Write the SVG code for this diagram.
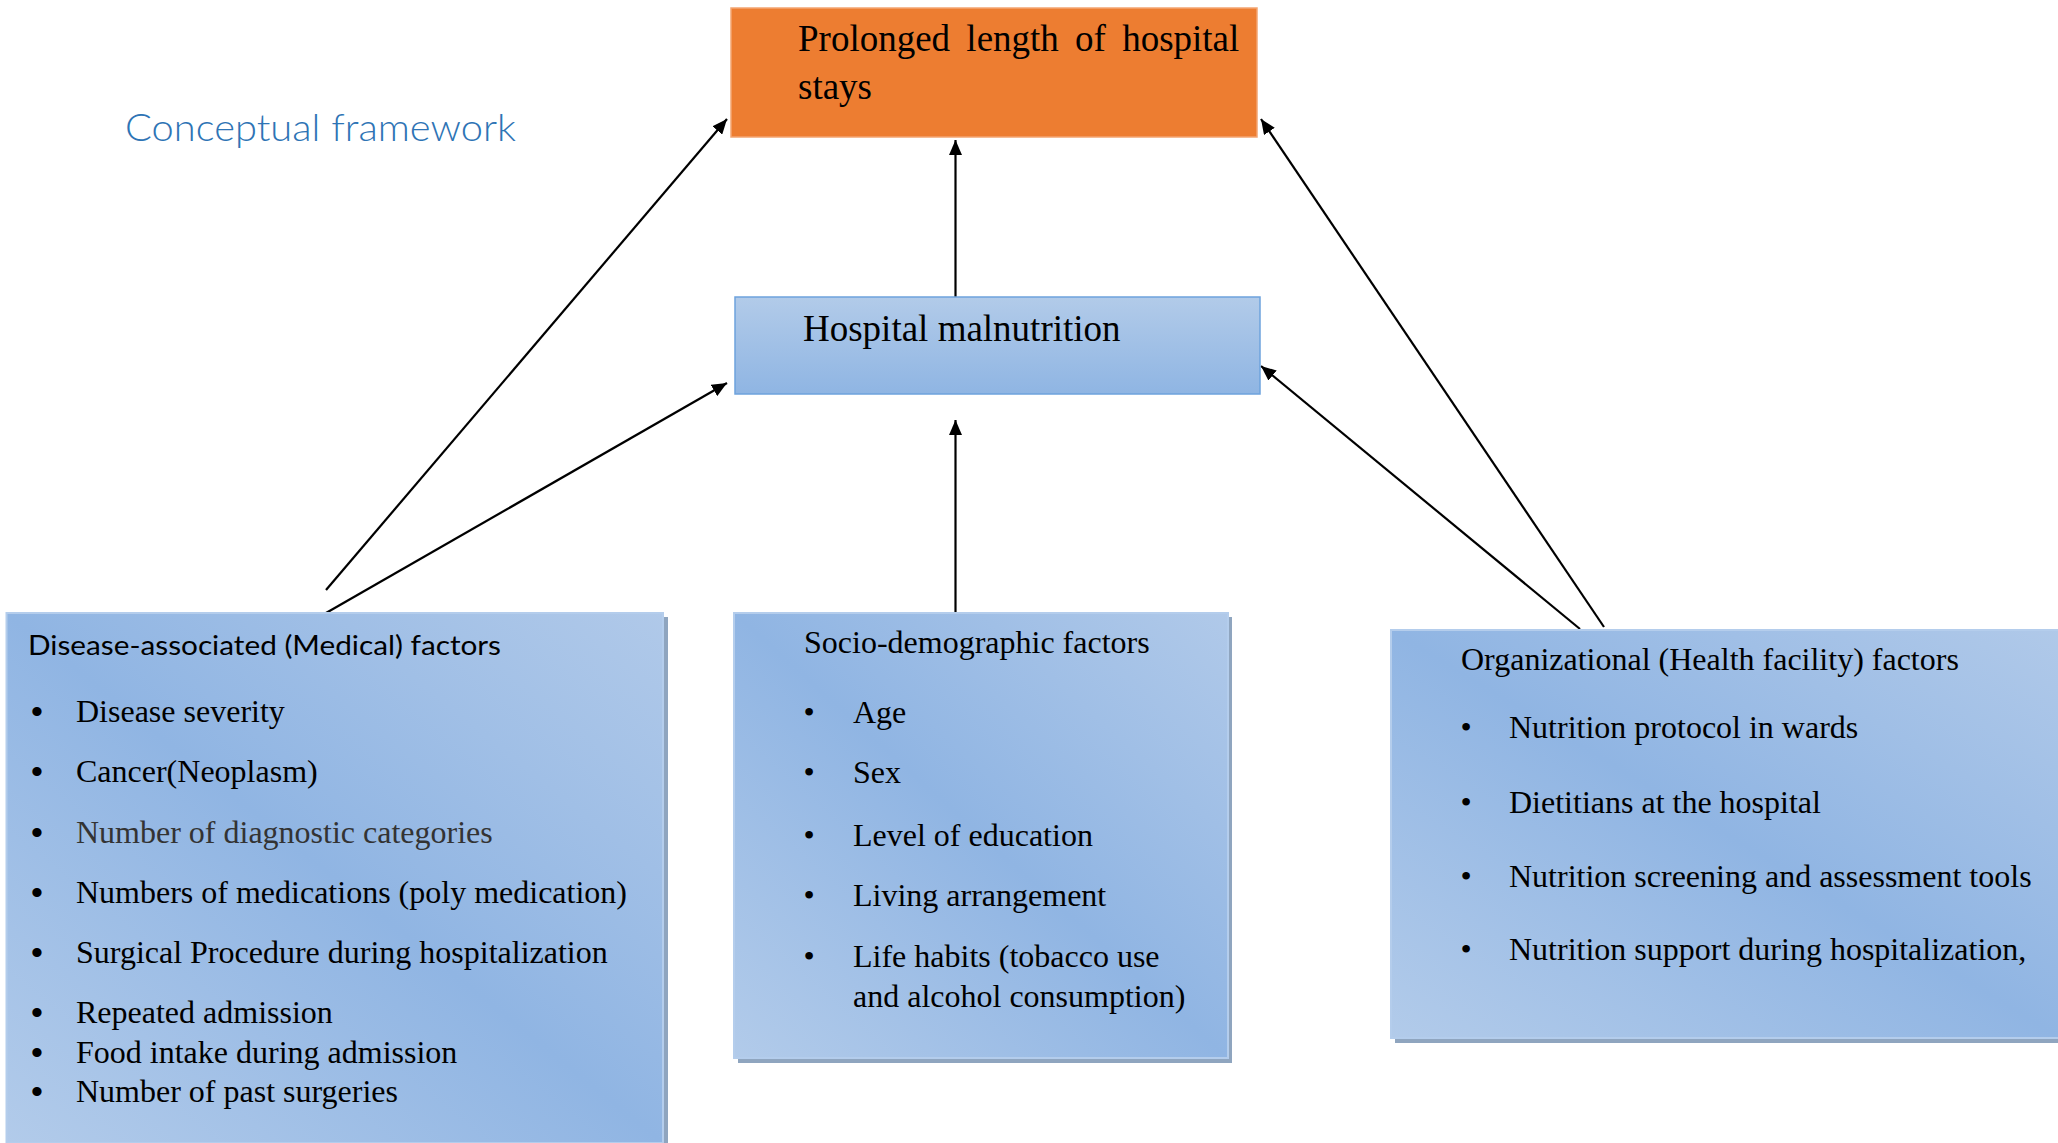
<svg xmlns="http://www.w3.org/2000/svg" width="2058" height="1143" viewBox="0 0 2058 1143">
<style>
.serif{font-family:"Liberation Serif","Times New Roman",serif;fill:#000;}
.t37{font-size:37px;}
.t32{font-size:32px;}
.sans{font-family:Lato,"Liberation Sans",sans-serif;fill:#000;}
.bul{font-family:"Liberation Serif",serif;font-size:32px;text-anchor:middle;}
.bulL{font-family:"Liberation Sans",sans-serif;font-size:34px;text-anchor:middle;}
.fbox{fill:url(#diag);stroke:#b4cdec;stroke-width:2;}
.shadow{fill:#8fa5bf;}
.conn{stroke:#000;stroke-width:2.2;fill:none;marker-end:url(#arr);}
</style>
<defs>
<linearGradient id="diag" x1="0" y1="1" x2="1" y2="0">
<stop offset="0" stop-color="#b2cbea"/>
<stop offset="0.5" stop-color="#90b5e3"/>
<stop offset="1" stop-color="#b0c9e9"/>
</linearGradient>
<linearGradient id="vert" x1="0" y1="0" x2="0" y2="1">
<stop offset="0" stop-color="#b2cbe9"/>
<stop offset="1" stop-color="#8fb5e3"/>
</linearGradient>
<marker id="arr" markerUnits="userSpaceOnUse" markerWidth="16" markerHeight="13" refX="15" refY="6.5" orient="auto">
<path d="M0,0 L15,6.5 L0,13 z" fill="#000"/>
</marker>
</defs>
<rect width="2058" height="1143" fill="#fff"/>

<text id="title" x="125" y="141" font-family="Lato,'Open Sans',sans-serif" font-weight="300" font-size="38" fill="#2e74b5" textLength="391" lengthAdjust="spacingAndGlyphs">Conceptual framework</text>

<g id="connectors">
<line class="conn" x1="955.5" y1="297" x2="955.5" y2="140"/>
<line class="conn" x1="955.5" y1="613" x2="955.5" y2="420"/>
<line class="conn" x1="326" y1="590" x2="727" y2="119"/>
<line class="conn" x1="326" y1="613" x2="727" y2="383"/>
<line class="conn" x1="1604" y1="627" x2="1261" y2="119"/>
<line class="conn" x1="1580" y1="629" x2="1261" y2="366"/>
</g>

<g id="node-outcome">
<rect x="731" y="8" width="526" height="129" fill="#ed7d31" stroke="#f3a572" stroke-width="1.5"/>
<text class="serif t37" x="798" y="51" word-spacing="7">Prolonged length of hospital</text>
<text class="serif t37" x="798" y="99">stays</text>
</g>

<g id="node-malnutrition">
<rect x="735" y="297" width="525" height="97" fill="url(#vert)" stroke="#6ea3dd" stroke-width="1.5"/>
<text class="serif t37" x="803" y="341">Hospital malnutrition</text>
</g>

<g id="node-disease">
<rect class="shadow" x="11" y="617" width="657" height="530"/>
<rect class="fbox" x="6.5" y="613" width="656.5" height="530"/>
<text class="sans" x="28" y="655" font-size="27" textLength="473" lengthAdjust="spacingAndGlyphs">Disease-associated (Medical) factors</text>
<g class="serif t32">
<text class="bulL" x="37" y="723">•</text><text x="76" y="722">Disease severity</text>
<text class="bulL" x="37" y="783">•</text><text x="76" y="782">Cancer(Neoplasm)</text>
<text class="bulL" x="37" y="844">•</text><text x="76" y="843" fill="#333">Number of diagnostic categories</text>
<text class="bulL" x="37" y="904">•</text><text x="76" y="903">Numbers of medications (poly medication)</text>
<text class="bulL" x="37" y="964">•</text><text x="76" y="963">Surgical Procedure during hospitalization</text>
<text class="bulL" x="37" y="1024">•</text><text x="76" y="1023">Repeated admission</text>
<text class="bulL" x="37" y="1064">•</text><text x="76" y="1063">Food intake during admission</text>
<text class="bulL" x="37" y="1103">•</text><text x="76" y="1102">Number of past surgeries</text>
</g>
</g>

<g id="node-socio">
<rect class="shadow" x="738" y="617" width="494" height="446"/>
<rect class="fbox" x="734" y="613" width="494" height="445"/>
<g class="serif t32">
<text x="804" y="653">Socio-demographic factors</text>
<text class="bul" x="809" y="723">•</text><text x="853" y="723">Age</text>
<text class="bul" x="809" y="783">•</text><text x="853" y="783">Sex</text>
<text class="bul" x="809" y="846">•</text><text x="853" y="846">Level of education</text>
<text class="bul" x="809" y="906">•</text><text x="853" y="906">Living arrangement</text>
<text class="bul" x="809" y="967">•</text><text x="853" y="967">Life habits (tobacco use</text>
<text x="853" y="1007">and alcohol consumption)</text>
</g>
</g>

<g id="node-organizational">
<rect class="shadow" x="1395" y="634" width="670" height="409"/>
<rect class="fbox" x="1391" y="630" width="670" height="408"/>
<g class="serif t32">
<text x="1461" y="670">Organizational (Health facility) factors</text>
<text class="bul" x="1466" y="738">•</text><text x="1509" y="738">Nutrition protocol in wards</text>
<text class="bul" x="1466" y="813">•</text><text x="1509" y="813">Dietitians at the hospital</text>
<text class="bul" x="1466" y="887">•</text><text x="1509" y="887">Nutrition screening and assessment tools</text>
<text class="bul" x="1466" y="960">•</text><text x="1509" y="960">Nutrition support during hospitalization,</text>
</g>
</g>
</svg>
